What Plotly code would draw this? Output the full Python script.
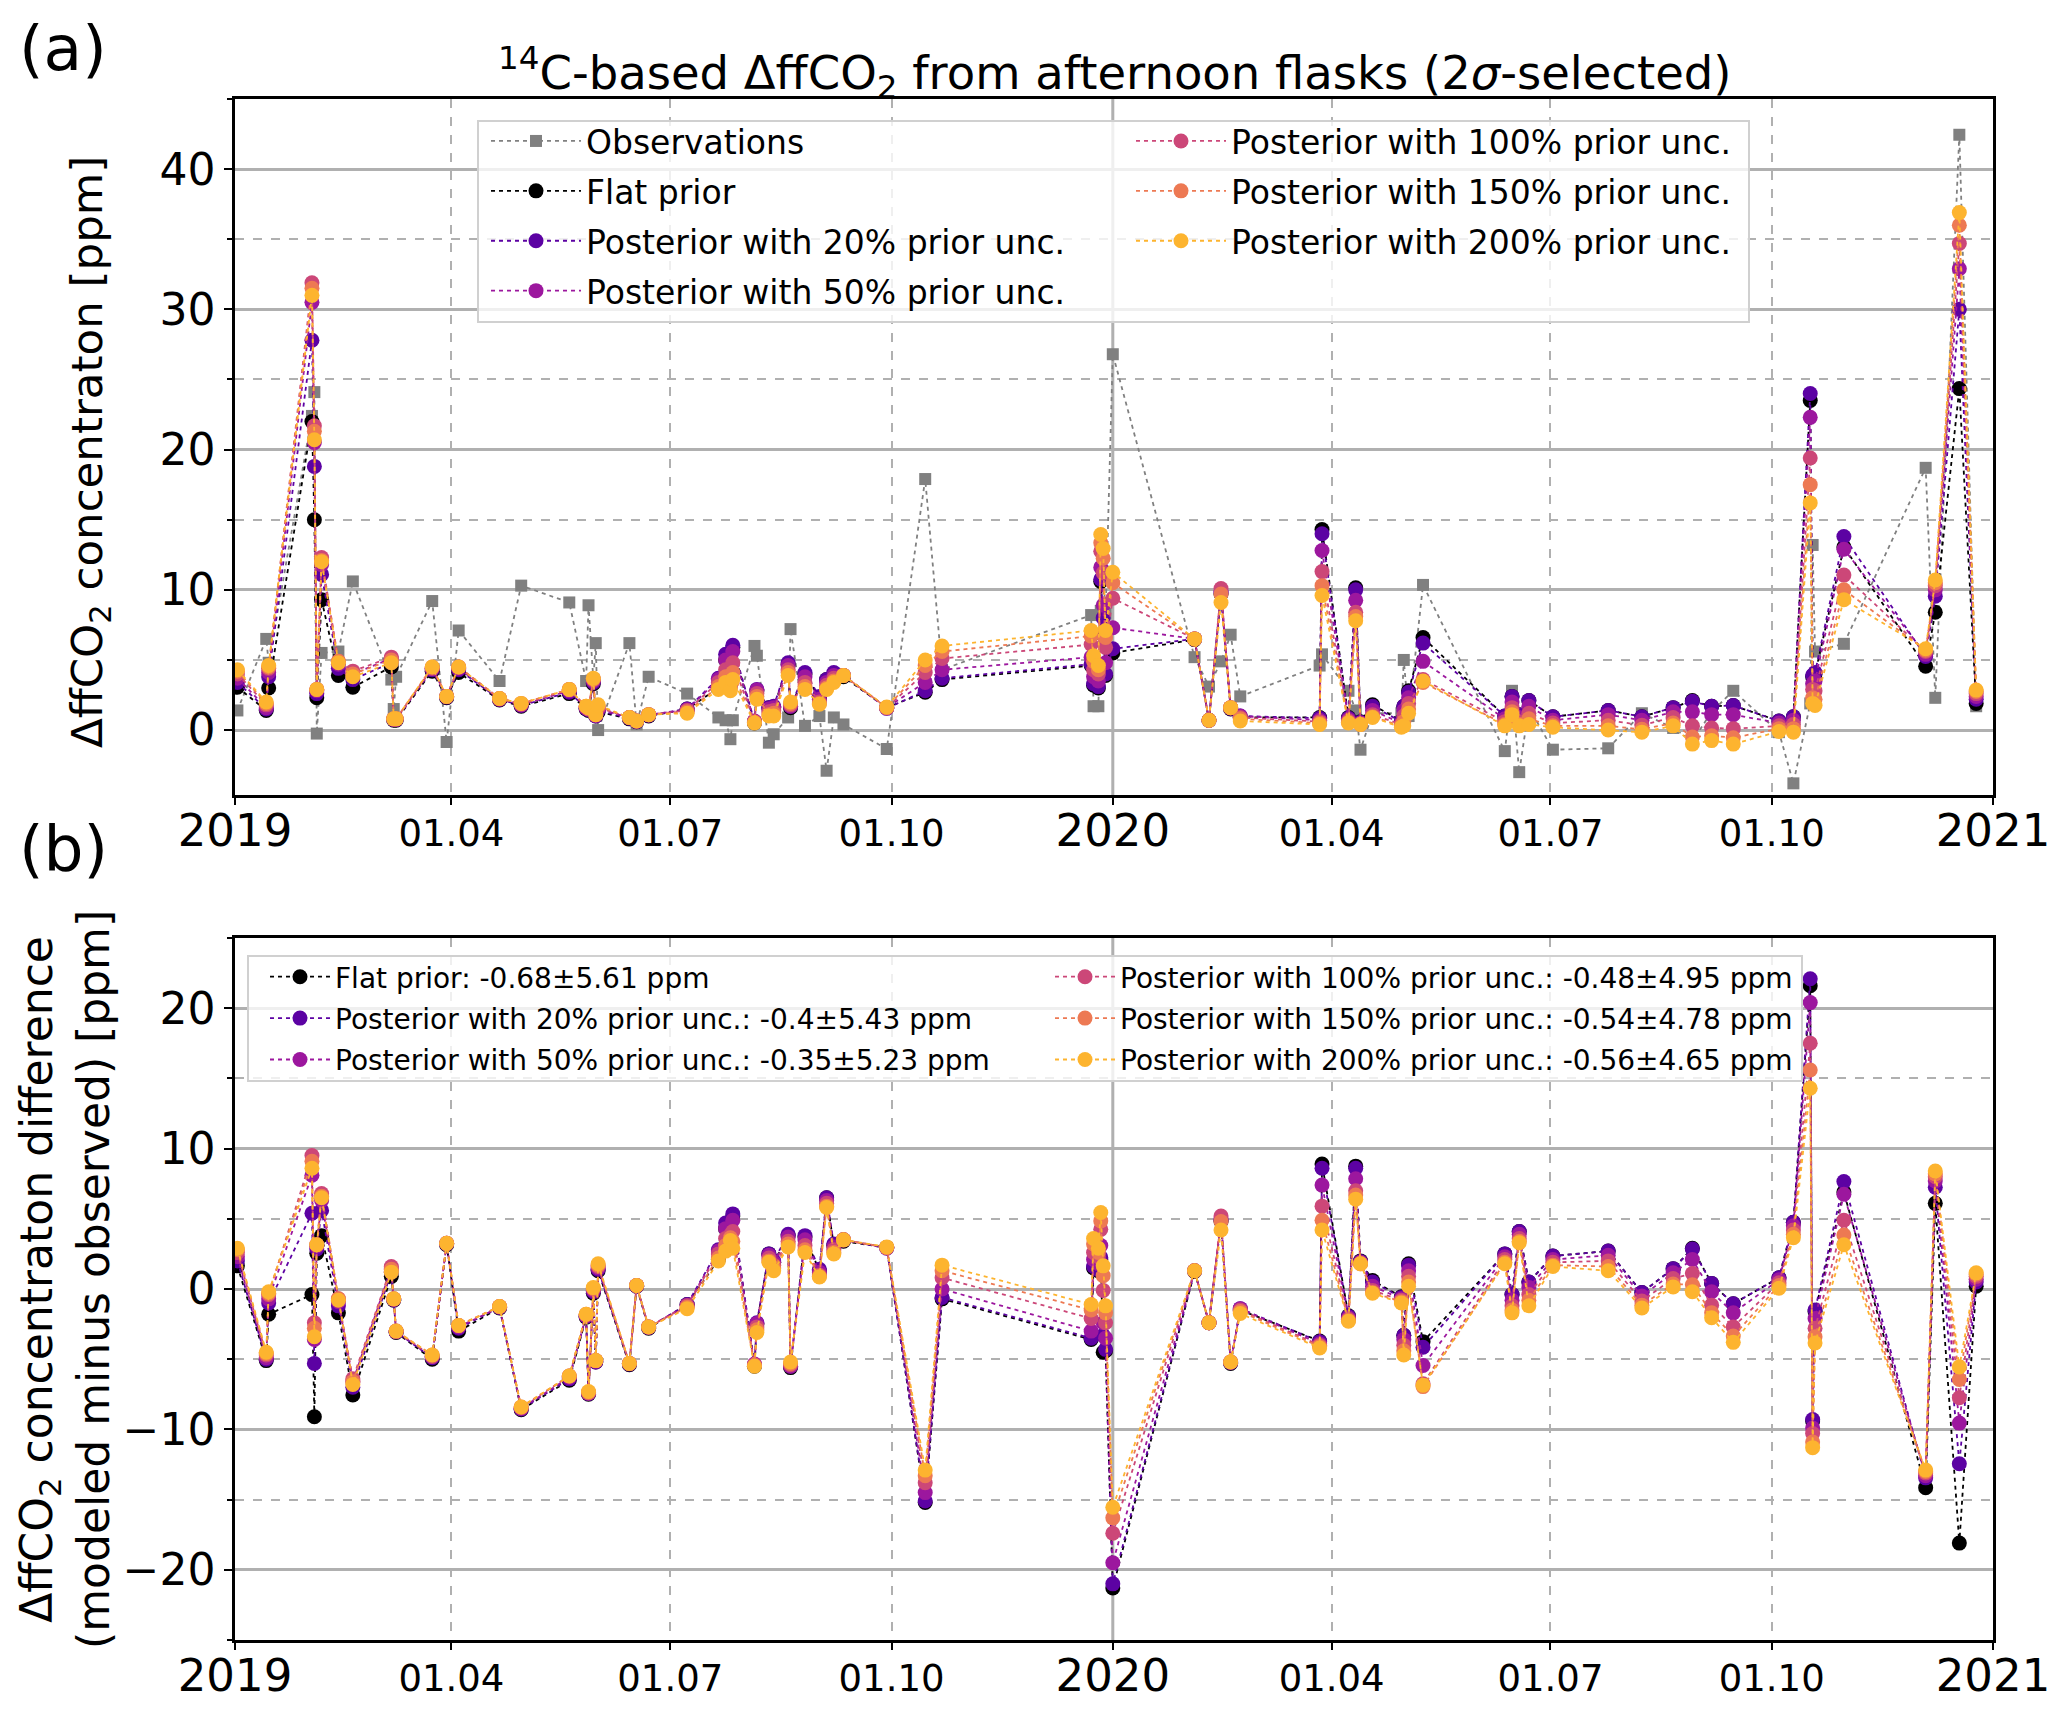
import plotly.graph_objects as go
from plotly.subplots import make_subplots

# sampling dates of the afternoon flasks
dates = [
    "2019-01-02", "2019-01-14", "2019-01-15", "2019-02-02", "2019-02-03", "2019-02-04",
    "2019-02-06", "2019-02-13", "2019-02-19", "2019-03-07", "2019-03-08", "2019-03-09",
    "2019-03-24", "2019-03-30", "2019-04-04", "2019-04-21", "2019-04-30", "2019-05-20",
    "2019-05-27", "2019-05-28", "2019-05-30", "2019-05-31", "2019-06-01", "2019-06-14",
    "2019-06-17", "2019-06-22", "2019-07-08", "2019-07-21", "2019-07-24", "2019-07-26",
    "2019-07-27", "2019-08-05", "2019-08-06", "2019-08-11", "2019-08-13", "2019-08-19",
    "2019-08-20", "2019-08-26", "2019-09-01", "2019-09-04", "2019-09-07", "2019-09-11",
    "2019-09-29", "2019-10-15", "2019-10-22", "2019-12-23", "2019-12-24", "2019-12-26",
    "2019-12-27", "2019-12-28", "2019-12-29", "2020-01-01", "2020-02-04", "2020-02-10",
    "2020-02-15", "2020-02-19", "2020-02-23", "2020-03-27", "2020-03-28", "2020-04-08",
    "2020-04-11", "2020-04-13", "2020-04-18", "2020-04-30", "2020-05-01", "2020-05-03",
    "2020-05-09", "2020-06-12", "2020-06-15", "2020-06-18", "2020-06-22", "2020-07-02",
    "2020-07-25", "2020-08-08", "2020-08-21", "2020-08-29", "2020-09-06", "2020-09-15",
    "2020-10-04", "2020-10-10", "2020-10-17", "2020-10-18", "2020-10-19", "2020-10-31",
    "2020-12-04", "2020-12-08", "2020-12-18", "2020-12-25",
]

# observed 14C-based ffCO2 [ppm]
obs = [
    1.4, 6.5, 4.8, 22.4, 24.1, -0.25,
    5.5, 5.6, 10.6, 3.6, 1.5, 3.8,
    9.2, -0.85, 7.1, 3.5, 10.3, 9.1,
    3.5, 8.9, 3.6, 6.2, 0.0, 6.2,
    0.4, 3.8, 2.6, 0.9, 0.7, -0.65,
    0.7, 6.0, 5.3, -0.9, -0.3, 0.9,
    7.2, 0.3, 1.0, -2.9, 0.9, 0.4,
    -1.35, 17.9, 4.3, 8.2, 1.7, 1.7,
    8.5, 11.3, 8.3, 26.8, 5.2, 3.1,
    4.9, 6.8, 2.4, 4.6, 5.4, 2.8,
    1.4, -1.4, 1.2, 1.2, 5.0, 1.0,
    10.35, -1.5, 2.8, -3.0, 1.6, -1.4,
    -1.3, 1.2, 0.15, -0.8, 1.3, 2.8,
    -0.15, -3.8, 1.9, 13.2, 5.6, 6.15,
    18.7, 2.3, 42.45, 1.7,
]

flat = [
    3.05, 1.4, 3.0, 22.0, 15.0, 2.3,
    9.3, 3.9, 3.05, 4.5, 0.7, 0.7,
    4.2, 2.3, 4.1, 2.15, 1.7, 2.6,
    1.5, 1.4, 3.3, 1.0, 1.3, 0.8,
    0.6, 1.0, 1.5, 3.0, 5.0, 3.3,
    5.9, 0.5, 2.8, 1.6, 1.6, 4.7,
    1.6, 4.0, 2.3, 3.6, 4.0, 3.8,
    1.6, 2.7, 3.6, 4.6, 3.2, 3.0,
    10.6, 6.8, 3.9, 5.5, 6.45, 0.7,
    9.7, 1.5, 0.9, 0.9, 14.3, 0.9,
    10.15, 0.6, 1.8, 0.65, 1.7, 2.8,
    6.6, 1.0, 2.4, 1.1, 2.1, 0.95,
    1.4, 0.95, 1.6, 2.1, 1.7, 1.75,
    0.65, 0.95, 23.5, 3.8, 4.0, 13.05,
    4.55, 8.4, 24.35, 1.9,
]

post20 = [
    3.4, 1.5, 3.8, 27.8, 18.8, 2.6,
    11.1, 4.4, 3.6, 4.8, 0.75, 0.75,
    4.3, 2.35, 4.3, 2.2, 1.75, 2.7,
    1.55, 1.45, 3.4, 1.0, 1.4, 0.85,
    0.6, 1.05, 1.5, 3.7, 5.4, 3.5,
    6.05, 0.6, 2.9, 1.6, 1.7, 4.8,
    1.7, 4.1, 2.4, 3.6, 4.1, 3.9,
    1.55, 2.8, 3.7, 4.7, 3.3, 3.1,
    10.75, 8.0, 4.0, 5.8, 6.5, 0.7,
    9.8, 1.55, 1.0, 0.85, 14.0, 0.85,
    10.0, 0.55, 1.7, 0.6, 1.7, 2.7,
    6.2, 1.0, 2.4, 1.1, 2.1, 0.95,
    1.4, 0.95, 1.6, 2.05, 1.7, 1.75,
    0.65, 0.95, 24.0, 3.9, 4.1, 13.8,
    5.25, 9.55, 30.0, 2.2,
]

post50 = [
    3.7, 1.6, 4.1, 30.5, 20.5, 2.8,
    11.8, 4.7, 4.0, 5.1, 0.75, 0.75,
    4.4, 2.4, 4.4, 2.2, 1.8, 2.8,
    1.6, 1.5, 3.5, 1.05, 1.5, 0.9,
    0.65, 1.1, 1.45, 3.6, 5.0, 3.4,
    5.6, 0.65, 2.85, 1.5, 1.6, 4.6,
    1.7, 3.8, 2.2, 3.4, 3.9, 3.9,
    1.6, 3.4, 4.3, 5.2, 3.8, 3.5,
    11.6, 8.9, 4.8, 7.3, 6.5, 0.7,
    9.9, 1.6, 1.0, 0.7, 12.8, 0.75,
    9.25, 0.5, 1.4, 0.5, 1.4, 2.3,
    4.9, 0.8, 2.0, 0.9, 1.7, 0.7,
    1.1, 0.7, 1.3, 1.3, 1.1, 1.1,
    0.5, 0.7, 22.3, 3.3, 3.5, 12.9,
    5.4, 10.0, 32.9, 2.4,
]

post100 = [
    4.0, 1.8, 4.4, 31.9, 21.7, 2.9,
    12.3, 4.9, 4.2, 5.2, 0.8, 0.8,
    4.4, 2.4, 4.5, 2.25, 1.85, 2.9,
    1.65, 1.5, 3.6, 1.1, 1.6, 0.9,
    0.65, 1.1, 1.4, 3.4, 4.3, 3.2,
    4.8, 0.6, 2.6, 1.3, 1.4, 4.3,
    1.8, 3.4, 2.0, 3.2, 3.7, 3.9,
    1.6, 4.1, 5.1, 6.1, 4.3, 4.0,
    12.75, 11.2, 5.9, 9.4, 6.5, 0.7,
    10.1, 1.6, 0.9, 0.6, 11.3, 0.65,
    8.4, 0.45, 1.1, 0.4, 1.0, 1.9,
    3.6, 0.6, 1.6, 0.6, 1.2, 0.5,
    0.7, 0.35, 0.9, 0.3, 0.15, 0.1,
    0.3, 0.4, 19.4, 2.9, 2.8, 11.05,
    5.6, 10.3, 34.7, 2.6,
]

post150 = [
    4.2, 1.9, 4.5, 31.5, 21.3, 2.9,
    12.1, 4.9, 4.0, 5.0, 0.8, 0.8,
    4.5, 2.4, 4.5, 2.25, 1.9, 2.9,
    1.7, 1.55, 3.65, 1.1, 1.7, 0.9,
    0.65, 1.1, 1.3, 3.1, 3.8, 3.0,
    4.1, 0.55, 2.4, 1.1, 1.2, 4.1,
    1.9, 3.1, 1.9, 3.0, 3.5, 3.9,
    1.6, 4.6, 5.6, 6.7, 4.9, 4.3,
    13.35, 12.25, 6.6, 10.5, 6.5, 0.7,
    9.7, 1.6, 0.8, 0.5, 10.3, 0.55,
    8.1, 0.4, 0.95, 0.3, 0.6, 1.5,
    3.4, 0.4, 1.3, 0.4, 0.8, 0.3,
    0.3, 0.05, 0.5, -0.5, -0.4, -0.55,
    0.1, 0.1, 17.5, 2.3, 2.2, 10.0,
    5.7, 10.5, 36.0, 2.75,
]

post200 = [
    4.3, 2.0, 4.6, 31.0, 20.7, 2.9,
    12.0, 4.8, 3.8, 4.8, 0.8, 0.8,
    4.5, 2.4, 4.5, 2.25, 1.9, 2.9,
    1.7, 1.6, 3.7, 1.1, 1.8, 0.9,
    0.65, 1.1, 1.2, 2.9, 3.4, 2.8,
    3.6, 0.5, 2.2, 1.0, 1.0, 3.9,
    2.0, 2.9, 1.85, 2.9, 3.4, 3.9,
    1.65, 5.0, 6.0, 7.1, 5.3, 4.6,
    13.95, 12.95, 7.1, 11.25, 6.5, 0.7,
    9.1, 1.6, 0.65, 0.4, 9.6, 0.5,
    7.8, 0.4, 0.9, 0.2, 0.3, 1.2,
    3.5, 0.3, 1.1, 0.3, 0.4, 0.2,
    0.0, -0.15, 0.3, -1.0, -0.75, -1.0,
    -0.1, -0.15, 16.2, 1.9, 1.75, 9.3,
    5.8, 10.7, 36.9, 2.85,
]

model_names = ["Flat prior", "Posterior with 20% prior unc.", "Posterior with 50% prior unc.",
               "Posterior with 100% prior unc.", "Posterior with 150% prior unc.",
               "Posterior with 200% prior unc."]
# mean and std of the differences as printed in the panel (b) legend
diff_stats = ["-0.68±5.61 ppm", "-0.4±5.43 ppm", "-0.35±5.23 ppm",
              "-0.48±4.95 ppm", "-0.54±4.78 ppm", "-0.56±4.65 ppm"]
model_colors = ["#000000", "#5c02a3", "#9c179e", "#cc4778", "#ed7953", "#fdb42f"]
models = [flat, post20, post50, post100, post150, post200]

tick_dates = ["2019-01-01", "2019-04-01", "2019-07-01", "2019-10-01", "2020-01-01",
              "2020-04-01", "2020-07-01", "2020-10-01", "2021-01-01"]
tick_labels = ["<span style='font-size:45px'>2019</span>", "01.04", "01.07", "01.10",
               "<span style='font-size:45px'>2020</span>", "01.04", "01.07", "01.10",
               "<span style='font-size:45px'>2021</span>"]
quarter_dates = ["2019-04-01", "2019-07-01", "2019-10-01",
                 "2020-04-01", "2020-07-01", "2020-10-01"]

# the page body keeps its 8px default margin, so the figure is a bit smaller
# than the window and positions below are given in window pixels
OFF = 8
W, H = 2067 - 2 * OFF, 1710 - 2 * OFF
FONT = "DejaVu Sans"
GRID = "#b0b0b0"


def px(x):
    return (x - OFF) / W


def py(y):
    return 1 - (y - OFF) / H


fig = make_subplots(rows=2, cols=1)

# panel (a): observations + modelled, legend split in two columns
fig.add_trace(go.Scatter(x=dates, y=obs, name="Observations", mode="lines+markers",
                         line=dict(color="#808080", width=1.8, dash="4px,4px"),
                         marker=dict(symbol="square", size=12, color="#808080"),
                         legend="legend", legendgroup="a_obs"), row=1, col=1)
for i, (vals, nm, col) in enumerate(zip(models, model_names, model_colors)):
    fig.add_trace(go.Scatter(x=dates, y=vals, name=nm, mode="lines+markers",
                             line=dict(color=col, width=1.8, dash="4px,4px"),
                             marker=dict(symbol="circle", size=15, color=col),
                             legend="legend" if i < 3 else "legend2",
                             legendgroup="a%d" % i), row=1, col=1)

# panel (b): modeled minus observed
for i, (vals, nm, st, col) in enumerate(zip(models, model_names, diff_stats, model_colors)):
    diff = [m - o for m, o in zip(vals, obs)]
    fig.add_trace(go.Scatter(x=dates, y=diff, name=nm + ": " + st, mode="lines+markers",
                             line=dict(color=col, width=1.8, dash="4px,4px"),
                             marker=dict(symbol="circle", size=15, color=col),
                             legend="legend3" if i < 3 else "legend4",
                             legendgroup="b%d" % i), row=2, col=1)

xdom = [px(235), px(1993)]
for r in (1, 2):
    fig.update_xaxes(row=r, col=1, domain=xdom, type="date", automargin=False,
                     range=["2019-01-01", "2021-01-01"],
                     tickvals=tick_dates, ticktext=tick_labels,
                     tickfont=dict(family=FONT, size=37, color="black"),
                     ticks="outside", ticklen=7, tickwidth=2, tickcolor="black",
                     ticklabelstandoff=-3,
                     showgrid=False, zeroline=False,
                     showline=True, linecolor="black", linewidth=2.5, mirror=True,
                     minor=dict(tickvals=quarter_dates, showgrid=True, gridcolor=GRID,
                                griddash="dash", gridwidth=1.6, ticks=""))

fig.update_yaxes(row=1, col=1, domain=[py(795), py(99)],
                 range=[-4.63, 45.0], dtick=10, tick0=0)
fig.update_yaxes(row=2, col=1, domain=[py(1640), py(938)],
                 range=[-25, 25], dtick=10, tick0=0)
fig.update_yaxes(tickfont=dict(family=FONT, size=44, color="black"), automargin=False,
                 ticks="outside", ticklen=8, tickwidth=2, tickcolor="black",
                 showgrid=True, gridcolor=GRID, gridwidth=3, zeroline=False,
                 showline=True, linecolor="black", linewidth=2.5, mirror=True,
                 minor=dict(dtick=5, showgrid=True, gridcolor=GRID, griddash="dash",
                            gridwidth=1.6, ticks="outside", ticklen=5, tickwidth=1.5,
                            tickcolor="black"))

# solid vertical grid line at the year boundary
for xr, yr in (("x", "y domain"), ("x2", "y2 domain")):
    fig.add_shape(type="line", xref=xr, yref=yr, x0="2020-01-01", x1="2020-01-01",
                  y0=0, y1=1, line=dict(color=GRID, width=3), layer="below")

# legend frames (two legend columns share one frame per panel)
for x0, y0, x1, y1 in ((478, 121, 1749, 322), (248, 956, 1802, 1081)):
    fig.add_shape(type="rect", xref="paper", yref="paper",
                  x0=px(x0), x1=px(x1), y0=py(y1), y1=py(y0),
                  fillcolor="rgba(255,255,255,0.8)", line=dict(color="#d0d0d0", width=2),
                  layer="above")

leg_a = dict(xanchor="left", yanchor="top", orientation="v", itemwidth=90,
             traceorder="grouped", tracegroupgap=4, bgcolor="rgba(0,0,0,0)", borderwidth=0,
             font=dict(family=FONT, size=33, color="black"))
leg_b = dict(xanchor="left", yanchor="top", orientation="v", itemwidth=60,
             traceorder="grouped", tracegroupgap=2, bgcolor="rgba(0,0,0,0)", borderwidth=0,
             font=dict(family=FONT, size=28, color="black"))

fig.update_layout(
    template="none",
    width=W, height=H,
    margin=dict(l=0, r=0, t=0, b=0),
    paper_bgcolor="white", plot_bgcolor="white",
    font=dict(family=FONT, color="black"),
    showlegend=True,
    legend=dict(x=px(486), y=py(113), **leg_a),
    legend2=dict(x=px(1131), y=py(113), **leg_a),
    legend3=dict(x=px(265), y=py(952), **leg_b),
    legend4=dict(x=px(1050), y=py(952), **leg_b),
)

fig.add_annotation(xref="paper", yref="paper", x=px(1114), y=py(72),
                   text="<sup>14</sup>C-based ΔffCO<sub>2</sub> from afternoon flasks (2<i>σ</i>-selected)",
                   showarrow=False, xanchor="center", yanchor="middle",
                   font=dict(family=FONT, size=46.5, color="black"))
fig.add_annotation(xref="paper", yref="paper", x=px(63), y=py(48),
                   text="(a)", showarrow=False, xanchor="center", yanchor="middle",
                   font=dict(family=FONT, size=63, color="black"))
fig.add_annotation(xref="paper", yref="paper", x=px(63), y=py(849),
                   text="(b)", showarrow=False, xanchor="center", yanchor="middle",
                   font=dict(family=FONT, size=63, color="black"))
fig.add_annotation(xref="paper", yref="paper", x=px(90), y=py(452),
                   text="ΔffCO<sub>2</sub> concentraton [ppm]", textangle=-90,
                   showarrow=False, xanchor="center", yanchor="middle",
                   font=dict(family=FONT, size=43.5, color="black"))
fig.add_annotation(xref="paper", yref="paper", x=px(65), y=py(1280),
                   text="ΔffCO<sub>2</sub> concentraton difference<br>(modeled minus observed) [ppm]",
                   textangle=-90, showarrow=False, xanchor="center", yanchor="middle",
                   font=dict(family=FONT, size=44, color="black"))

fig.write_html("out.html")
